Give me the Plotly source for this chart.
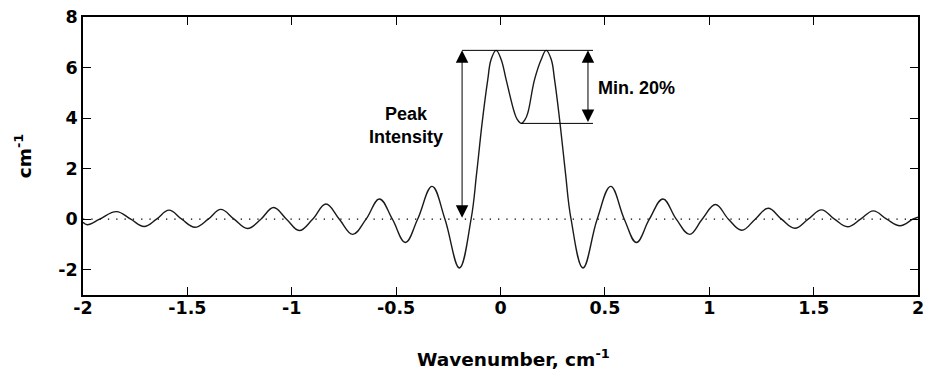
import plotly.graph_objects as go

# Values (extrema, zero crossings and points on the main lobes)
wavenumber = [-2.000, -1.979, -1.920, -1.840, -1.771, -1.707, -1.648, -1.588, -1.527, -1.464,
              -1.400, -1.340, -1.276, -1.212, -1.148, -1.087, -1.025, -0.964, -0.900, -0.836,
              -0.772, -0.708, -0.644, -0.580, -0.518, -0.456, -0.397, -0.328, -0.266, -0.197,
              -0.141, -0.114, -0.088, -0.061, -0.045, -0.021, 0.003, 0.027, 0.067, 0.080,
              0.099, 0.118, 0.131, 0.163, 0.195, 0.219, 0.243, 0.259, 0.285, 0.311,
              0.338, 0.395, 0.463, 0.528, 0.593, 0.651,
              0.713, 0.778, 0.842, 0.906, 0.966, 1.030, 1.092, 1.156, 1.220, 1.282,
              1.346, 1.410, 1.474, 1.538, 1.600, 1.663, 1.725, 1.786, 1.850, 1.914,
              1.975, 2.000]
intensity = [-0.12, -0.22, 0.0, 0.30, 0.0, -0.29, 0.0, 0.36, 0.0, -0.32,
             0.0, 0.39, 0.0, -0.37, 0.0, 0.46, 0.0, -0.45, 0.0, 0.60,
             0.0, -0.60, 0.0, 0.80, 0.0, -0.92, 0.0, 1.30, 0.0, -1.93,
             0.0, 1.84, 3.81, 5.52, 6.32, 6.68, 6.32, 5.52, 4.21, 3.95,
             3.79, 3.95, 4.21, 5.52, 6.32, 6.68, 6.32, 5.52, 3.81, 1.84,
             0.0, -1.93, 0.0, 1.30, 0.0, -0.92,
             0.0, 0.80, 0.0, -0.60, 0.0, 0.58, 0.0, -0.44, 0.0, 0.43,
             0.0, -0.36, 0.0, 0.37, 0.0, -0.30, 0.0, 0.33, 0.0, -0.26,
             0.0, 0.08]

x_ticks = [-2, -1.5, -1, -0.5, 0, 0.5, 1, 1.5, 2]
x_tick_labels = ["-2", "-1.5", "-1", "-0.5", "0", "0.5", "1", "1.5", "2"]
y_ticks = [-2, 0, 2, 4, 6, 8]
y_tick_labels = ["-2", "0", "2", "4", "6", "8"]

peak_value = max(intensity)
peak_index = intensity.index(peak_value)
dip_value = min(intensity[peak_index:peak_index + 12])
dip_x = wavenumber[intensity.index(dip_value, peak_index)]

peak_arrow_x = -0.184
min_arrow_x = 0.419
bracket_end_x = 0.443

AX_FONT = dict(family="DejaVu Sans", size=17.5, color="black", weight="bold")
TITLE_FONT = dict(family="DejaVu Sans", size=18.5, color="black", weight="bold")
ANN_FONT = dict(family="Liberation Sans, Arial", size=18, color="black", weight="bold")

fig = go.Figure()
fig.add_trace(go.Scatter(x=[x_ticks[0], x_ticks[-1]], y=[0, 0], mode="lines",
                         line=dict(color="black", width=1.3, dash="1.3px,7px"),
                         hoverinfo="skip", showlegend=False))
fig.add_trace(go.Scatter(x=wavenumber, y=intensity, mode="lines",
                         line=dict(color="#1a1a1a", width=1.4, shape="spline", smoothing=1.15),
                         showlegend=False))

# bracket lines
fig.add_shape(type="line", x0=peak_arrow_x, x1=bracket_end_x, y0=peak_value, y1=peak_value,
              line=dict(color="black", width=1))
fig.add_shape(type="line", x0=dip_x, x1=bracket_end_x, y0=dip_value, y1=dip_value,
              line=dict(color="black", width=1))

arrow_common = dict(text="", showarrow=True, axref="x", ayref="y", xref="x", yref="y",
                    arrowhead=2, startarrowhead=2, arrowsize=2.5, startarrowsize=2.5,
                    arrowwidth=1, arrowcolor="black", arrowside="end+start",
                    standoff=0, startstandoff=0)
fig.add_annotation(x=peak_arrow_x, y=peak_value, ax=peak_arrow_x, ay=0, **arrow_common)
fig.add_annotation(x=min_arrow_x, y=peak_value, ax=min_arrow_x, ay=dip_value, **arrow_common)

fig.add_annotation(x=-0.452, y=3.7, text="Peak<br>Intensity", showarrow=False,
                   font=ANN_FONT, xanchor="center", yanchor="middle", align="center")
fig.add_annotation(x=0.458, y=5.18, text="Min. 20%", showarrow=False,
                   font=ANN_FONT, xanchor="left", yanchor="middle")

# x-axis title placed under the axis
fig.add_annotation(x=0.515, y=-0.226, xref="paper", yref="paper", showarrow=False,
                   text="Wavenumber, cm<sup>-1</sup>", font=TITLE_FONT,
                   xanchor="center", yanchor="middle")

axis_common = dict(showgrid=False, zeroline=False, showline=True, linecolor="black",
                   linewidth=1.5, mirror="ticks", ticks="inside", ticklen=8,
                   tickwidth=1, tickcolor="black", tickfont=AX_FONT, automargin=False)

fig.update_xaxes(range=[-2, 2], tickvals=x_ticks, ticktext=x_tick_labels,
                 ticklabelstandoff=-4, **axis_common)
fig.update_yaxes(range=[-3, 8], tickvals=y_ticks, ticktext=y_tick_labels,
                 title=dict(text="cm<sup>-1</sup>", font=TITLE_FONT, standoff=22),
                 **axis_common)

fig.update_layout(width=927, height=374, margin=dict(l=83, r=9, t=17, b=79),
                  plot_bgcolor="white", paper_bgcolor="white")

fig.write_html("out.html")
